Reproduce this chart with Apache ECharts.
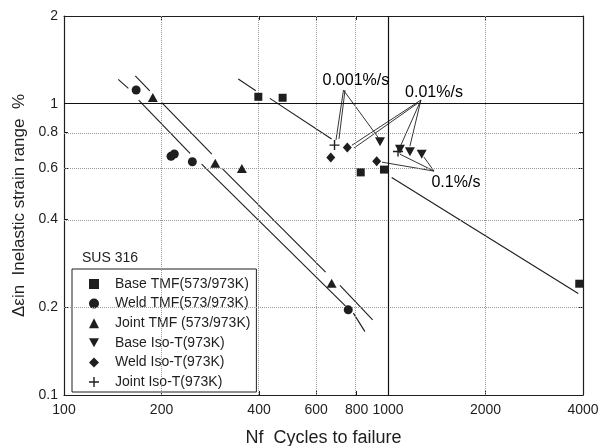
<!DOCTYPE html>
<html>
<head>
<meta charset="utf-8">
<script src="https://cdn.jsdelivr.net/npm/echarts@6/dist/echarts.min.js"></script>
<style>
  html, body { margin: 0; padding: 0; background: #fff; }
  #main { width: 600px; height: 446px; }
</style>
</head>
<body>
<div id="main"></div>
<script>
// Nf (cycles) vs inelastic strain range (%)
const baseTMF = [[398, 1.056], [473, 1.048], [824, 0.581], [972, 0.594], [3895, 0.241]]
const weldTMF = [[167, 1.114], [214, 0.660], [219, 0.672], [249, 0.632], [754, 0.196]]
const jointTMF = [[188, 1.05], [293, 0.624], [354, 0.599], [670, 0.242]]
const baseIso = [[945, 0.740], [1089, 0.697], [1169, 0.684], [1271, 0.670]]
const weldIso = [[666, 0.654], [749, 0.708], [923, 0.635]]
const jointIso = [[684, 0.721], [1074, 0.685]]

// fitted lines, broken around the markers
const weldFit = [
  [[147, 1.212], [158, 1.129]],
  [[170, 1.029], [245, 0.675]],
  [[266, 0.620], [740, 0.202]],
  [[782, 0.191], [849, 0.165]]
]
const jointFit = [
  [[166, 1.247], [184, 1.107]],
  [[200, 1.010], [286, 0.671]],
  [[307, 0.601], [642, 0.264]],
  [[711, 0.238], [897, 0.181]]
]
const baseFit = [
  [[345, 1.215], [391, 1.107]],
  [[432, 1.043], [670, 0.756]],
  [[1027, 0.558], [3867, 0.223]]
]

// strain rate notes and their leader lines
const noteLabels = ['0.001%/s', '0.01%/s', '0.1%/s']
const notePos = [[796, 1.205], [1387, 1.096], [1621, 0.534]]
const noteLeaders = [
  [[729, 1.113], [691, 0.750]],
  [[737, 1.113], [706, 0.756]],
  [[729, 1.113], [931, 0.768]],
  [[1264, 1.029], [774, 0.720]],
  [[1238, 1.005], [785, 0.704]],
  [[1264, 1.029], [1089, 0.709]],
  [[1264, 1.029], [1169, 0.715]],
  [[1387, 0.587], [958, 0.630]],
  [[1387, 0.587], [1089, 0.671]],
  [[1387, 0.587], [1291, 0.656]]
]

const xTicks = [100, 200, 400, 600, 800, 1000, 2000, 4000]
const yTicks = [0.1, 0.2, 0.4, 0.6, 0.8, 1, 2]
const xGrid = [200, 400, 600, 800, 2000]
const yGrid = [0.2, 0.4, 0.6, 0.8]
const xMajor = [1000]
const yMajor = [1]

const seriesNames = [
  'Base TMF(573/973K)',
  'Weld TMF(573/973K)',
  'Joint TMF (573/973K)',
  'Base Iso-T(973K)',
  'Weld Iso-T(973K)',
  'Joint Iso-T(973K)'
]

const lg = v => Math.log10(v)
const pt = p => [lg(p[0]), lg(p[1])]
const ink = '#1e1e1e'
const font = 'Liberation Sans, Arial, sans-serif'

function tickLabel(list) {
  return v => {
    const t = list.find(t => Math.abs(lg(t) - v) < 1e-6)
    return t === undefined ? '' : String(t)
  }
}

function markSeries(name, data, symbol, size) {
  return {
    name: name,
    type: 'scatter',
    data: data.map(pt),
    symbol: symbol,
    symbolSize: size,
    itemStyle: { color: ink, opacity: 1 },
    z: 5,
    silent: true
  }
}

const plusPath = 'path://M4.3,0H5.7V4.3H10V5.7H5.7V10H4.3V5.7H0V4.3H4.3Z'
const downTri = 'path://M0,0L10,0L5,9Z'

const dotted = { color: '#9a9a9a', type: 'dotted', width: 1 }
const solid = { color: '#111', type: 'solid', width: 1.2 }

const gridLines = []
xGrid.forEach(v => gridLines.push({ xAxis: lg(v), lineStyle: dotted }))
yGrid.forEach(v => gridLines.push({ yAxis: lg(v), lineStyle: dotted }))
xMajor.forEach(v => gridLines.push({ xAxis: lg(v), lineStyle: solid }))
yMajor.forEach(v => gridLines.push({ yAxis: lg(v), lineStyle: solid }))

function frameAxis(pos, ticks, extra) {
  return Object.assign({
    type: 'value',
    position: pos,
    axisLine: { show: true, onZero: false, lineStyle: { color: ink, width: 1.2 } },
    axisTick: { show: true, inside: true, length: 4, customValues: ticks.map(lg), lineStyle: { color: ink } },
    axisLabel: { show: false },
    splitLine: { show: false }
  }, extra)
}

const option = {
  animation: false,
  backgroundColor: '#fff',
  textStyle: { fontFamily: font },
  grid: { left: 64, right: 17, top: 16, bottom: 51, outerBoundsMode: 'none' },
  title: {
    text: 'SUS 316',
    left: 82,
    top: 251,
    padding: 0,
    textStyle: { fontSize: 14, fontWeight: 'normal', color: ink, fontFamily: font }
  },
  legend: {
    orient: 'vertical',
    left: 72,
    top: 269,
    data: seriesNames,
    itemWidth: 10,
    itemHeight: 10,
    itemGap: 5.6,
    padding: [8, 6, 3, 17],
    borderColor: ink,
    borderWidth: 1,
    backgroundColor: '#fff',
    selectedMode: false,
    textStyle: { fontSize: 14, color: ink, fontFamily: font, padding: [0, 0, 0, 11] }
  },
  xAxis: [
    frameAxis('bottom', xTicks, {
      min: lg(100),
      max: lg(4000),
      axisLabel: {
        show: true,
        customValues: xTicks.map(lg),
        formatter: tickLabel(xTicks),
        fontSize: 14,
        color: ink,
        margin: 8
      },
      name: 'Nf  Cycles to failure',
      nameLocation: 'middle',
      nameGap: 34,
      nameTextStyle: { fontSize: 18, color: ink }
    }),
    frameAxis('top', xTicks, { min: lg(100), max: lg(4000) })
  ],
  yAxis: [
    frameAxis('left', yTicks, {
      min: lg(0.1),
      max: lg(2),
      axisLabel: {
        show: true,
        customValues: yTicks.map(lg),
        formatter: tickLabel(yTicks),
        fontSize: 14,
        color: ink,
        margin: 6
      },
      name: 'Δεin  Inelastic strain range  %',
      nameLocation: 'middle',
      nameGap: 26,
      nameTextStyle: { fontSize: 17, color: ink }
    }),
    frameAxis('right', yTicks, { min: lg(0.1), max: lg(2) })
  ],
  series: [
    {
      name: 'grid',
      type: 'line',
      data: [],
      z: 1,
      silent: true,
      markLine: {
        silent: true,
        symbol: ['none', 'none'],
        label: { show: false },
        animation: false,
        data: gridLines
      }
    },
    {
      name: 'fits',
      type: 'lines',
      coordinateSystem: 'cartesian2d',
      silent: true,
      z: 3,
      lineStyle: { color: ink, width: 1.1, opacity: 1 },
      data: weldFit.concat(jointFit, baseFit).map(s => ({ coords: s.map(pt) }))
    },
    {
      name: 'leaders',
      type: 'lines',
      coordinateSystem: 'cartesian2d',
      silent: true,
      z: 3,
      lineStyle: { color: ink, width: 0.9, opacity: 1 },
      data: noteLeaders.map(s => ({ coords: s.map(pt) }))
    },
    {
      name: 'notes',
      type: 'scatter',
      silent: true,
      symbolSize: 0,
      itemStyle: { color: '#000' },
      z: 6,
      label: {
        show: true,
        position: 'inside',
        formatter: '{b}',
        fontSize: 16,
        color: '#000',
        opacity: 1,
        textBorderWidth: 0,
        fontFamily: font
      },
      data: noteLabels.map((t, i) => ({ name: t, value: pt(notePos[i]) }))
    },
    markSeries(seriesNames[0], baseTMF, 'rect', 8),
    markSeries(seriesNames[1], weldTMF, 'circle', 9),
    markSeries(seriesNames[2], jointTMF, 'triangle', [10, 9]),
    markSeries(seriesNames[3], baseIso, downTri, [10, 9]),
    markSeries(seriesNames[4], weldIso, 'diamond', [9, 10]),
    markSeries(seriesNames[5], jointIso, plusPath, 10)
  ]
}

const chart = echarts.init(document.getElementById('main'))
chart.setOption(option)
</script>
</body>
</html>
